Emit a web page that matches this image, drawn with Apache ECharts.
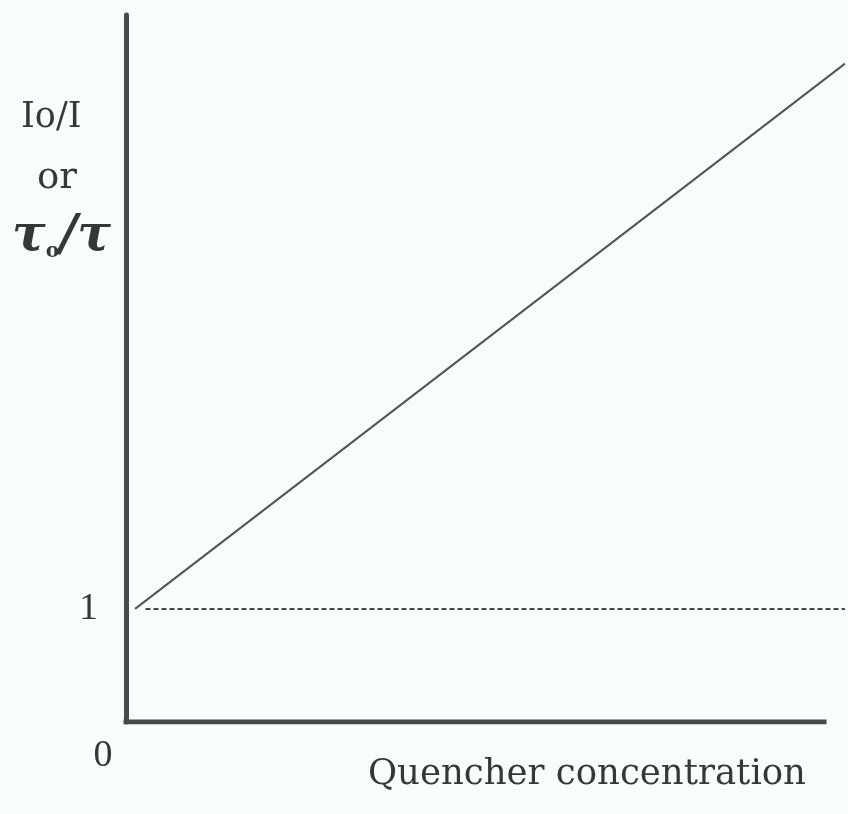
<!DOCTYPE html>
<html>
<head>
<meta charset="utf-8">
<script src="https://cdn.jsdelivr.net/npm/echarts@6/dist/echarts.min.js"></script>
<style>
  html, body { margin: 0; padding: 0; background: #f8fcfb; }
  #chart { width: 848px; height: 814px; }
</style>
</head>
<body>
<div id="chart"></div>
<script>
// Stern–Volmer plot: Io/I (or τo/τ) against quencher concentration
const quencherConc = [0.13, 10.3];       // arbitrary concentration units
const intensityRatio = [1.0, 5.82];      // Io/I = 1 + K[Q]
const baselineConc = [0.28, 10.3];
const baselineRatio = [1, 1];            // unquenched reference level
const axisConc = [0, 10];                // extent of the drawn concentration axis
const axisRatio = [0, 0];
const yTickLabels = ['1'];
const xTickLabels = ['0'];

const ink = '#464c4c';
const serif = 'DejaVu Serif';

const chart = echarts.init(document.getElementById('chart'), null, { renderer: 'canvas' });

chart.setOption({
  backgroundColor: '#f8fcfb',
  animation: false,
  grid: { left: 126, right: 0, top: 15, bottom: 92, containLabel: false },
  xAxis: {
    type: 'value', min: 0, max: 10.3, interval: 10.3,
    axisLine: { show: false },
    axisTick: { show: false },
    splitLine: { show: false },
    axisLabel: {
      margin: 15,
      color: '#333838',
      fontFamily: 'Liberation Serif',
      fontSize: 38,
      padding: [0, 46, 0, 0],
      formatter: v => (v === 0 ? xTickLabels[0] : '')
    }
  },
  yAxis: {
    type: 'value', min: 0, max: 6.25, interval: 1,
    axisLine: { show: true, onZero: false, lineStyle: { color: ink, width: 5 } },
    axisTick: { show: false },
    splitLine: { show: false },
    axisLabel: {
      margin: 28,
      color: '#333838',
      fontFamily: 'Liberation Serif',
      fontSize: 38,
      formatter: v => (v === 1 ? yTickLabels[0] : '')
    }
  },
  series: [
    {
      // concentration axis baseline, stopping short of the plot's right edge
      type: 'line',
      symbol: 'none',
      silent: true,
      data: axisConc.map((c, i) => [c, axisRatio[i]]),
      lineStyle: { color: ink, width: 5, cap: 'square' },
      z: 3
    },
    {
      type: 'line',
      symbol: 'none',
      data: quencherConc.map((c, i) => [c, intensityRatio[i]]),
      lineStyle: { color: '#50565a', width: 2 }
    },
    {
      type: 'line',
      symbol: 'none',
      data: baselineConc.map((c, i) => [c, baselineRatio[i]]),
      lineStyle: { color: '#464c4c', width: 2, type: [5, 3] }
    }
  ],
  graphic: [
    {
      type: 'text', left: 21, top: 100,
      style: { text: 'Io/I', font: '35px "DejaVu Serif"', fill: '#333838' }
    },
    {
      type: 'text', left: 37, top: 160,
      style: { text: 'or', font: '37px "DejaVu Serif"', fill: '#333838' }
    },
    {
      type: 'text', left: 12, top: 212,
      style: {
        text: '{t|τ}{s|o}{t|/τ}',
        fill: '#333838',
        rich: {
          t: { fontFamily: serif, fontStyle: 'italic', fontWeight: 'bold', fontSize: 50, fill: '#333838' },
          s: { fontFamily: serif, fontWeight: 'bold', fontSize: 20, fill: '#333838', verticalAlign: 'bottom' }
        }
      }
    },
    {
      type: 'text', left: 368, top: 757,
      style: { text: 'Quencher concentration', font: '35.5px "DejaVu Serif"', fill: '#333838' }
    }
  ]
});
</script>
</body>
</html>
